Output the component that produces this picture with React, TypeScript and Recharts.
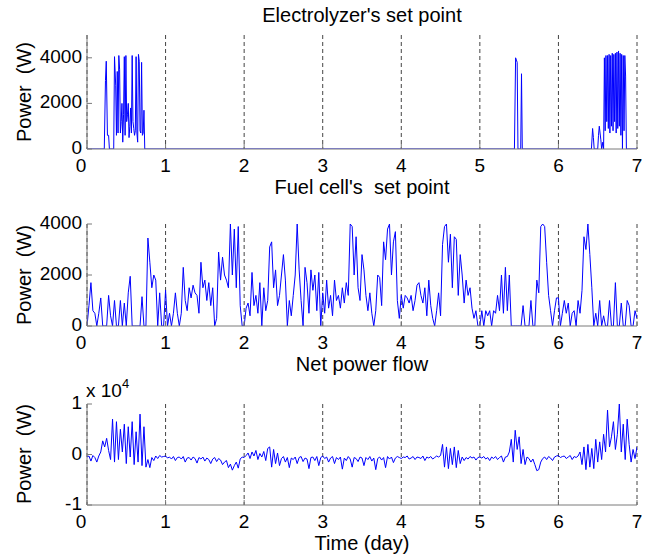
import React from "react";
import { LineChart, Line, XAxis, YAxis, CartesianGrid } from "recharts";

// time axis (days) and y ticks
const dayTicks = [0, 1, 2, 3, 4, 5, 6, 7];
const powerTicks = [0, 2000, 4000];
const netTicks = [-10000, 0, 10000];

// fuel cell and net power traces are sampled every 0.025 day
const sampleStep = 0.025;

// Electrolyzer's set point (W) - only active in three bursts
const electrolyzerTime = [
  0, 0.22, 0.235, 0.245, 0.26, 0.275, 0.285, 0.34,
  0.35, 0.365, 0.375, 0.385, 0.395, 0.405, 0.415, 0.425, 0.435, 0.445,
  0.455, 0.465, 0.475, 0.485, 0.495, 0.505, 0.515, 0.525, 0.535, 0.545,
  0.555, 0.565, 0.575, 0.585, 0.595, 0.605, 0.615, 0.625, 0.635, 0.645,
  0.655, 0.665, 0.675, 0.685, 0.695, 0.705, 0.715, 0.725, 0.735,
  5.44, 5.455, 5.465, 5.475, 5.485, 5.52, 5.53, 5.54,
  6.42, 6.435, 6.445, 6.455, 6.5, 6.51, 6.52, 6.53, 6.54, 6.55, 6.565, 6.575,
  6.585, 6.595, 6.605, 6.615, 6.625, 6.635, 6.645, 6.655, 6.665, 6.675,
  6.685, 6.695, 6.705, 6.715, 6.725, 6.735, 6.745, 6.755, 6.765, 6.775,
  6.785, 6.795, 6.805, 6.815, 6.825, 6.835, 6.845, 6.855, 6.865, 7,
];
const electrolyzerPower = [
  0, 0, 3000, 3850, 600, 600, 0, 0,
  4050, 2800, 600, 3400, 700, 4100, 3500, 700, 1200, 2000,
  300, 1500, 4050, 600, 4100, 1200, 1500, 2000, 500, 1000,
  1800, 700, 4100, 1200, 900, 600, 800, 4050, 700, 300,
  4150, 3850, 800, 700, 3800, 600, 700, 1700, 0,
  0, 4000, 3900, 3800, 0, 0, 3300, 0,
  0, 900, 500, 0, 0, 600, 1000, 700, 400, 0, 300, 0,
  4000, 800, 4100, 1200, 4100, 900, 4150, 700, 4100, 1000,
  4200, 800, 4150, 1200, 4200, 700, 4250, 900, 4300, 1000,
  4200, 600, 4150, 0, 4100, 800, 4100, 3200, 0, 0,
];

// Fuel cell's set point (W)
const fuelCellPower = [
  // day 0
  0, 800, 1700, 600, 500, 0, 500, 1100, 0, 0,
  0, 1200, 400, 0, 1000, 0, 0, 1000, 0, 900,
  0, 1300, 1950, 0, 0, 0, 0, 0, 1150, 0,
  0, 3450, 2500, 1500, 2000, 1800, 0, 1300, 0, 0,
  // day 1
  1400, 0, 500, 0, 500, 1300, 500, 0, 500, 2300,
  1000, 600, 1500, 1100, 1600, 1300, 1200, 500, 2500, 1500,
  1800, 1000, 1700, 800, 1500, 0, 300, 2900, 1800, 2700,
  2000, 1800, 1500, 4000, 2000, 3800, 1500, 3900, 800, 0,
  // day 2
  0, 700, 900, 400, 2100, 800, 1200, 500, 1700, 0,
  1500, 600, 1000, 3100, 3300, 1500, 2200, 800, 1200, 2000,
  2800, 1800, 0, 1000, 400, 1200, 2000, 4000, 2200, 1000,
  0, 2300, 1700, 500, 2200, 1400, 2000, 600, 2100, 0,
  // day 3
  1300, 500, 1800, 700, 1200, 400, 1800, 1000, 1200, 700,
  1500, 900, 1700, 1200, 4000, 3900, 2000, 3500, 1500, 1000,
  2800, 2200, 1200, 600, 1300, 500, 0, 600, 2000, 1900,
  800, 3300, 2600, 3800, 4000, 2000, 3300, 3700, 1000, 300,
  // day 4
  1200, 700, 1200, 1100, 900, 1200, 600, 1000, 1600, 1700,
  1200, 900, 1500, 400, 1800, 800, 300, 0, 600, 1300,
  400, 3200, 3900, 4000, 2500, 3600, 1500, 3500, 3400, 1200,
  2800, 2000, 900, 1800, 1200, 1500, 700, 300, 600, 0,
  // day 5
  0, 600, 0, 600, 400, 600, 0, 600, 500, 1200,
  600, 2000, 500, 2300, 600, 2000, 0, 0, 0, 0,
  0, 0, 800, 0, 0, 0, 1000, 0, 0, 1800,
  1300, 3900, 4000, 3900, 2500, 1200, 600, 0, 600, 1100,
  // day 6
  1100, 0, 500, 1000, 500, 900, 0, 500, 600, 0,
  1000, 500, 1400, 3500, 3000, 4000, 2800, 1500, 0, 500,
  0, 1000, 0, 400, 0, 0, 1000, 0, 0, 1700,
  0, 0, 900, 0, 0, 1000, 800, 0, 0, 600, 300,
];

// Net power flow (W)
const netPower = [
  // day 0
  -500, -300, -1300, -200, -600, -1500, -300, 500, 2700, 1500,
  3200, 800, -1000, 7000, -1500, 6500, -1000, 5000, 500, 6000,
  -1800, 5500, -500, 6500, -2000, 4500, -1500, 8000, -2200, 5500,
  -2500, -1000, -2600, -600, -1200, -300, -800, -200, -500, -400,
  // day 1
  -300, -700, -500, -900, -400, -1200, -600, -500, -900, -400,
  -1500, -700, -600, -1100, -500, -800, -1700, -600, -900, -500,
  -1300, -700, -1000, -1800, -900, -600, -1400, -800, -1100, -2000,
  -1500, -1200, -2600, -1900, -3100, -2200, -1500, -2700, -900, -500,
  // day 2
  -600, -200, 300, -800, 500, -300, 800, -1000, 200, -500,
  600, -1200, 1200, 1500, -2500, 1000, -1800, 300, -2200, -800,
  -400, -1500, -600, -2600, -700, -1000, -500, -1800, -600, -400,
  -1400, -700, -900, -2800, -600, -500, -1200, -400, -2200, -600,
  // day 3
  -300, -800, -500, -1500, -700, -400, -1800, -600, -1000, -500,
  -2900, -700, -1200, -400, -900, -2500, -600, -800, -1400, -500,
  -700, -2200, -600, -1000, -400, -1300, -700, -3000, -800, -500,
  -1100, -600, -2600, -400, -900, -500, -1600, -700, -400, -600,
  // day 4
  -800, -500, -600, -300, -900, -700, -400, -1000, -500, -600,
  -800, -300, -1200, -500, -700, -400, -900, -600, -300, -500,
  -200, 2000, -2500, 1500, -2800, 1200, -2000, 1500, -2600, 800,
  -1800, -500, -1200, -600, -900, -400, -700, -500, -1100, -600,
  // day 5
  -500, -700, -400, -900, -600, -1200, -500, -800, -400, -1000,
  -600, -300, -1500, -500, -400, 500, 3000, -1500, 4800, 1000,
  3500, -1800, 1000, -2000, -500, -800, -1500, -900, -2000, -3200,
  -3000, -1500, -800, -500, -1000, -400, -700, -1200, -500, -300,
  // day 6
  -200, -600, -400, -300, -800, -500, -200, -1000, -400, -600,
  -300, 500, -2000, 1500, -3000, 2000, -2500, 1200, -2800, 3000,
  -1500, 2500, -1000, 4000, 500, 8800, 1500, 3500, 6500, 1000,
  4000, 10000, 500, 6000, -1000, 7000, 2000, -1500, 1000, -800, 1500,
];

const font = "'Liberation Sans', Arial, Helvetica, sans-serif";
const boxColor = "#7a7a7a";
const lineColor = "#0000ff";

const electrolyzerData = electrolyzerTime.map((t, i) => ({ t, v: electrolyzerPower[i] }));
const sampled = (values: number[]) =>
  values.map((v, i) => ({ t: Math.round(i * sampleStep * 1000) / 1000, v }));
const fuelCellData = sampled(fuelCellPower);
const netData = sampled(netPower);

function BottomTick(props: any) {
  const { x, y, payload } = props;
  const shift = payload.value === 0 ? -6 : 0;
  return (
    <g>
      <line x1={x} x2={x} y1={y} y2={y - 5} stroke={boxColor} />
      <text x={x + shift} y={y + 23} textAnchor="middle" fontSize={19} fontFamily={font} fill="#000">
        {payload.value}
      </text>
    </g>
  );
}

function TopTick(props: any) {
  const { x, y } = props;
  return <line x1={x} x2={x} y1={y} y2={y + 5} stroke={boxColor} />;
}

function RightTick(props: any) {
  const { x, y } = props;
  return <line x1={x} x2={x - 5} y1={y} y2={y} stroke={boxColor} />;
}

const leftTick = (format: (v: number) => string) => (props: any) => {
  const { x, y, payload } = props;
  return (
    <g>
      <line x1={x} x2={x + 5} y1={y} y2={y} stroke={boxColor} />
      <text x={x - 5} y={y + 5} textAnchor="end" fontSize={19} fontFamily={font} fill="#000">
        {format(payload.value)}
      </text>
    </g>
  );
};

type PanelProps = {
  top: number;
  height: number;
  marginTop: number;
  data: { t: number; v: number }[];
  yDomain: number[];
  yTicks: number[];
  format: (v: number) => string;
};

function Panel({ top, height, marginTop, data, yDomain, yTicks, format }: PanelProps) {
  return (
    <div style={{ position: "absolute", left: 0, top }}>
      <LineChart
        width={657}
        height={height}
        data={data}
        margin={{ top: marginTop, right: 20, bottom: 0, left: 0 }}
      >
        <CartesianGrid vertical horizontal={false} stroke="#444" strokeDasharray="4 3" />
        <Line
          type="linear"
          dataKey="v"
          stroke={lineColor}
          strokeWidth={1}
          dot={false}
          isAnimationActive={false}
        />
        <XAxis
          dataKey="t"
          type="number"
          domain={[0, 7]}
          ticks={dayTicks}
          interval={0}
          height={32}
          tickSize={0}
          tickMargin={0}
          tickLine={false}
          axisLine={{ stroke: boxColor }}
          tick={BottomTick}
          allowDataOverflow
        />
        <XAxis
          xAxisId="top"
          orientation="top"
          dataKey="t"
          type="number"
          domain={[0, 7]}
          ticks={dayTicks}
          interval={0}
          height={0}
          tickSize={0}
          tickMargin={0}
          tickLine={false}
          axisLine={{ stroke: boxColor }}
          tick={TopTick}
          allowDataOverflow
        />
        <YAxis
          type="number"
          domain={yDomain}
          ticks={yTicks}
          interval={0}
          width={87}
          tickSize={0}
          tickMargin={0}
          tickLine={false}
          axisLine={{ stroke: boxColor }}
          tick={leftTick(format)}
          allowDataOverflow
        />
        <YAxis
          yAxisId="right"
          orientation="right"
          type="number"
          domain={yDomain}
          ticks={yTicks}
          interval={0}
          width={0}
          tickSize={0}
          tickMargin={0}
          tickLine={false}
          axisLine={{ stroke: boxColor }}
          tick={RightTick}
          allowDataOverflow
        />
      </LineChart>
    </div>
  );
}

const textStyle = { fontFamily: font, fontSize: 20, fill: "#000", whiteSpace: "pre" as const };

export default function App() {
  return (
    <div
      style={{
        position: "absolute",
        left: 0,
        top: 0,
        width: 657,
        height: 554,
        background: "#fff",
        overflow: "hidden",
      }}
    >
      <Panel
        top={0}
        height={181}
        marginTop={35}
        data={electrolyzerData}
        yDomain={[0, 5000]}
        yTicks={powerTicks}
        format={(v) => String(v)}
      />
      <Panel
        top={180}
        height={178}
        marginTop={44}
        data={fuelCellData}
        yDomain={[0, 4000]}
        yTicks={powerTicks}
        format={(v) => String(v)}
      />
      <Panel
        top={360}
        height={177}
        marginTop={44}
        data={netData}
        yDomain={[-10000, 10000]}
        yTicks={netTicks}
        format={(v) => String(v / 10000)}
      />

      {/* titles and axis labels */}
      <svg
        width={657}
        height={554}
        style={{ position: "absolute", left: 0, top: 0, pointerEvents: "none" }}
      >
        <text x={362} y={22} textAnchor="middle" style={textStyle}>
          Electrolyzer's set point
        </text>
        <text x={362} y={194} textAnchor="middle" style={textStyle}>
          {"Fuel cell's  set point"}
        </text>
        <text x={362} y={371} textAnchor="middle" style={textStyle}>
          Net power flow
        </text>
        <text x={362} y={550} textAnchor="middle" style={textStyle}>
          Time (day)
        </text>
        {[92, 275, 454].map((cy) => (
          <text
            key={cy}
            x={31}
            y={cy}
            textAnchor="middle"
            transform={`rotate(-90 31 ${cy})`}
            style={textStyle}
          >
            {"Power  (W)"}
          </text>
        ))}
        <text x={86} y={397} style={{ ...textStyle, fontSize: 19 }}>
          x 10
          <tspan dy={-9} fontSize={13}>
            4
          </tspan>
        </text>
      </svg>
    </div>
  );
}
